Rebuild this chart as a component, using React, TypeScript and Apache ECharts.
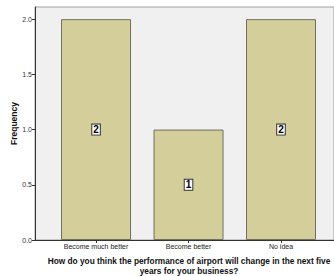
import React, { useEffect, useRef } from "react";
import * as echarts from "echarts";

const categories = ["Become much better", "Become better", "No idea"];
const frequencies = [2, 1, 2];
const yTicks = [0, 0.5, 1, 1.5, 2];
const positions = [1, 2, 3];

export default function App() {
  const ref = useRef<HTMLDivElement>(null);
  useEffect(() => {
    if (!ref.current) return;
    const chart = echarts.init(ref.current, undefined, { renderer: "svg" });
    chart.setOption({
      animation: false,
      backgroundColor: "#ffffff",
      grid: {
        left: 35,
        right: 0,
        top: 7,
        bottom: 36,
        show: true,
        outerBoundsMode: "none",
        containLabel: false,
        backgroundColor: "#F0F0F0",
        borderColor: "#A0A0A0",
        borderWidth: 1,
      },
      xAxis: {
        type: "value",
        min: 0.34,
        max: 3.573,
        splitLine: { show: false },
        axisLine: { show: true, onZero: false, lineStyle: { color: "#333333", width: 1 } },
        axisTick: { show: true, customValues: positions, length: 3, lineStyle: { color: "#333333" } },
        axisLabel: {
          customValues: positions,
          formatter: (v: number) => categories[Math.round(v) - 1] ?? "",
          fontSize: 7,
          color: "#222222",
          fontFamily: "Liberation Sans, Arial, sans-serif",
          margin: 3,
        },
        name: "How do you think the performance of airport will change in the next five\nyears for your business?",
        nameLocation: "middle",
        nameGap: 16,
        nameTextStyle: {
          fontSize: 8.3,
          fontWeight: "bold",
          color: "#111111",
          fontFamily: "Liberation Sans, Arial, sans-serif",
          lineHeight: 10,
          verticalAlign: "top",
          padding: [0, 0, 0, 9],
        },
      },
      yAxis: {
        type: "value",
        min: 0,
        max: 2.11,
        interval: 0.5,
        splitLine: { show: false },
        axisLine: { show: true, lineStyle: { color: "#333333", width: 1 } },
        axisTick: { show: true, customValues: yTicks, length: 3, lineStyle: { color: "#333333" } },
        axisLabel: {
          customValues: yTicks,
          formatter: (v: number) => v.toFixed(1),
          fontSize: 7,
          color: "#333333",
          fontFamily: "Liberation Sans, Arial, sans-serif",
          margin: 3,
        },
        name: "Frequency",
        nameLocation: "middle",
        nameMoveOverlap: false,
        nameGap: 17,
        nameTextStyle: {
          fontSize: 8.5,
          fontWeight: "bold",
          color: "#111111",
          fontFamily: "Liberation Sans, Arial, sans-serif",
        },
      },
      series: [
        {
          type: "bar",
          barWidth: 70,
          data: positions.map((p, i) => [p, frequencies[i]]),
          itemStyle: { color: "#D3CE9A", borderColor: "#707060", borderWidth: 1 },
          label: {
            show: true,
            position: "inside",
            formatter: (p: any) => String(p.value[1]),
            fontSize: 10,
            fontWeight: "bold",
            color: "#000000",
            backgroundColor: "#ffffff",
            borderColor: "#333333",
            borderWidth: 1,
            padding: [0, 1, 0, 1],
            fontFamily: "Liberation Sans, Arial, sans-serif",
          },
        },
      ],
    });
    return () => chart.dispose();
  }, []);
  return <div ref={ref} style={{ width: 334, height: 276, position: "absolute", left: 0, top: 0 }} />;
}
